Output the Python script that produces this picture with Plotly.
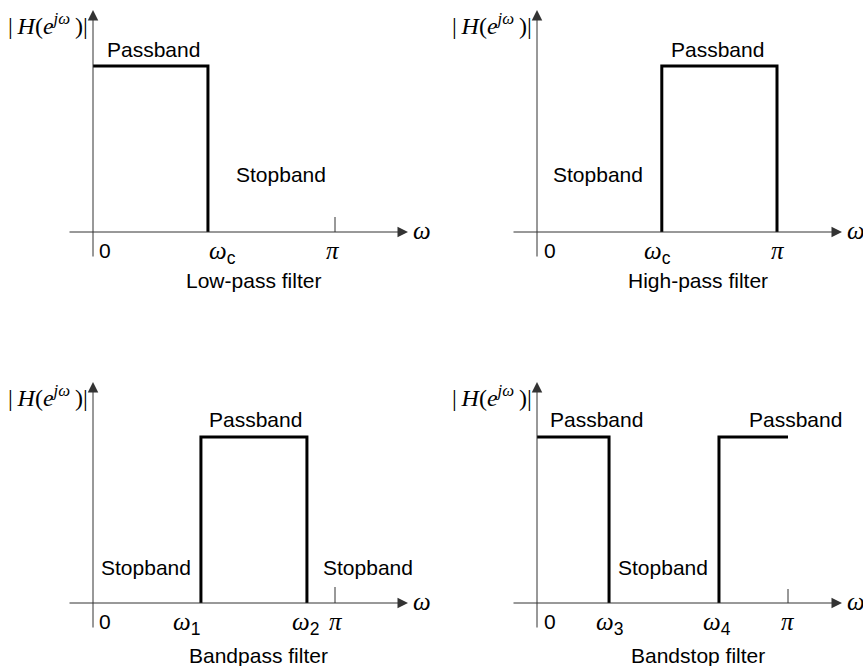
import plotly.graph_objects as go

W, H = 863, 666

# ---------------- data (frequency in units of pi, normalised magnitude) ----------------
lp_w = [0.0, 0.475, 0.475]
lp_m = [1, 1, 0]
hp_w = [0.52, 0.52, 1.0, 1.0]
hp_m = [0, 1, 1, 0]
bp_w = [0.446, 0.446, 0.884, 0.884]
bp_m = [0, 1, 1, 0]
bs_w = [0.0, 0.287, 0.287, None, 0.725, 0.725, 1.0]
bs_m = [1, 1, 0, None, 0, 1, 1]

titles = ["Low-pass filter", "High-pass filter", "Bandpass filter", "Bandstop filter"]

SANS = "Liberation Sans, Arial, sans-serif"
SERIF = "Liberation Serif, Times New Roman, serif"


def sub(s):
    return '<sub><span style="font-family:Liberation Sans">' + s + '</span></sub>'


W_SYM = '<i>ω</i>'
PI_SYM = '<i>π</i>'
ylabel = '|\u2009<i>H</i>(<i>e</i><sup><i>jω</i></sup>\u2009)|'

lp_ticktext = ["0", W_SYM + sub("c"), PI_SYM]
hp_ticktext = ["0", W_SYM + sub("c"), PI_SYM]
bp_ticktext = ["0", W_SYM + sub("1"), W_SYM + sub("2"), PI_SYM]
bs_ticktext = ["0", W_SYM + sub("3"), W_SYM + sub("4"), PI_SYM]

lp_tickval = [0.0, 0.475, 1.0]
hp_tickval = [0.0, 0.52, 1.0]
bp_tickval = [0.0, 0.446, 0.884, 1.0]
bs_tickval = [0.0, 0.287, 0.725, 1.0]

# ---------------- panel geometry (pixels) ----------------
panels = [
    dict(w=lp_w, m=lp_m, tv=lp_tickval, tt=lp_ticktext, title=titles[0],
         dom=(0, 431, 0, 333), o=93, p=335, yb=232, yp=66, top=10, bot=258, x0=68, x1=408,
         tick_px=[105, 222, 333], tick_y=[250, 252, 250],
         pitick=15,
         labels=[("Passband", 153, 49), ("Stopband", 281, 174)], title_xy=(253, 280)),
    dict(w=hp_w, m=hp_m, tv=hp_tickval, tt=hp_ticktext, title=titles[1],
         dom=(432, 863, 0, 333), o=537, p=777, yb=232, yp=66, top=10, bot=258, x0=512, x1=842,
         tick_px=[550, 657, 778], tick_y=[250, 252, 250],
         pitick=0,
         labels=[("Passband", 717, 49), ("Stopband", 598, 174)], title_xy=(698, 280)),
    dict(w=bp_w, m=bp_m, tv=bp_tickval, tt=bp_ticktext, title=titles[2],
         dom=(0, 431, 333, 666), o=93, p=335, yb=603, yp=437, top=382, bot=629, x0=68, x1=408,
         tick_px=[105, 186, 305, 336], tick_y=[621, 623, 623, 621],
         pitick=16,
         labels=[("Passband", 255, 419), ("Stopband", 146, 567), ("Stopband", 368, 567)],
         title_xy=(258, 655)),
    dict(w=bs_w, m=bs_m, tv=bs_tickval, tt=bs_ticktext, title=titles[3],
         dom=(432, 863, 333, 666), o=537, p=788, yb=603, yp=437, top=382, bot=629, x0=512, x1=842,
         tick_px=[550, 609, 717, 788], tick_y=[621, 623, 623, 621],
         pitick=14,
         labels=[("Passband", 596, 419), ("Passband", 795, 419), ("Stopband", 663, 567)],
         title_xy=(698, 655)),
]

FS = 21
GS = 25
AXC = "#333333"

fig = go.Figure()
annotations = []
shapes = []

for i, P in enumerate(panels, start=1):
    xa = "x" if i == 1 else f"x{i}"
    ya = "y" if i == 1 else f"y{i}"
    xk = "xaxis" if i == 1 else f"xaxis{i}"
    yk = "yaxis" if i == 1 else f"yaxis{i}"
    a, b, t, bt = P["dom"]
    o, p, yb, yp = P["o"], P["p"], P["yb"], P["yp"]

    def X(px, o=o, p=p):
        return (px - o) / (p - o)

    def Y(py, yb=yb, yp=yp):
        return (yb - py) / (yb - yp)

    fig.add_trace(go.Scatter(x=P["w"], y=P["m"], mode="lines", xaxis=xa, yaxis=ya,
                             line=dict(color="black", width=3), connectgaps=False,
                             hoverinfo="skip", showlegend=False))

    fig.layout[xk] = dict(domain=[a / W, b / W], range=[X(a), X(b)], visible=False,
                          anchor=ya, fixedrange=True)
    fig.layout[yk] = dict(domain=[1 - bt / H, 1 - t / H], range=[Y(bt), Y(t)], visible=False,
                          anchor=xa, fixedrange=True)

    # x axis with arrow
    annotations.append(dict(xref=xa, yref=ya, axref=xa, ayref=ya,
                            x=X(P["x1"]), y=0, ax=X(P["x0"]), ay=0, text="",
                            showarrow=True, arrowhead=2, arrowsize=2.1, arrowwidth=1,
                            arrowcolor=AXC, standoff=0, startstandoff=0))
    # y axis with arrow
    annotations.append(dict(xref=xa, yref=ya, axref=xa, ayref=ya,
                            x=0, y=Y(P["top"]), ax=0, ay=Y(P["bot"]), text="",
                            showarrow=True, arrowhead=2, arrowsize=2.1, arrowwidth=1,
                            arrowcolor=AXC, standoff=0, startstandoff=0))
    # omega label
    annotations.append(dict(xref=xa, yref=ya, x=X(P["x1"]), y=0, xanchor="left", yanchor="middle",
                            xshift=3, yshift=2, text=W_SYM, showarrow=False,
                            font=dict(family=SERIF, size=GS, color="black")))
    # |H| label
    annotations.append(dict(xref=xa, yref=ya, x=0, y=Y(P["top"] + 14), xanchor="right",
                            yanchor="middle", xshift=-3, text=ylabel, showarrow=False,
                            font=dict(family=SERIF, size=24, color="black")))
    # pi tick
    if P["pitick"]:
        shapes.append(dict(type="line", xref=xa, yref=ya, x0=1.0, x1=1.0, y0=0,
                           y1=Y(yb - P["pitick"]), line=dict(color=AXC, width=1)))
    # tick labels
    for tv, tt, tpx, ty in zip(P["tv"], P["tt"], P["tick_px"], P["tick_y"]):
        fam, sz = (SANS, FS) if tt == "0" else (SERIF, GS)
        annotations.append(dict(xref=xa, yref=ya, x=X(tpx), y=Y(ty), xanchor="center",
                                yanchor="middle", text=tt, showarrow=False,
                                font=dict(family=fam, size=sz, color="black")))
    # band labels
    for txt, lx, ly in P["labels"]:
        annotations.append(dict(xref=xa, yref=ya, x=X(lx), y=Y(ly), xanchor="center",
                                yanchor="middle", text=txt, showarrow=False,
                                font=dict(family=SANS, size=FS, color="black")))
    # title
    tx, ty = P["title_xy"]
    annotations.append(dict(xref=xa, yref=ya, x=X(tx), y=Y(ty), xanchor="center",
                            yanchor="middle", text=P["title"], showarrow=False,
                            font=dict(family=SANS, size=FS, color="black")))

fig.update_layout(width=W, height=H, autosize=False,
                  margin=dict(l=0, r=0, t=0, b=0),
                  paper_bgcolor="white", plot_bgcolor="white",
                  annotations=annotations, shapes=shapes, showlegend=False)

fig.write_html("out.html", config={"displayModeBar": False},
               post_script="document.body.style.margin='0';document.body.style.overflow='hidden';")
